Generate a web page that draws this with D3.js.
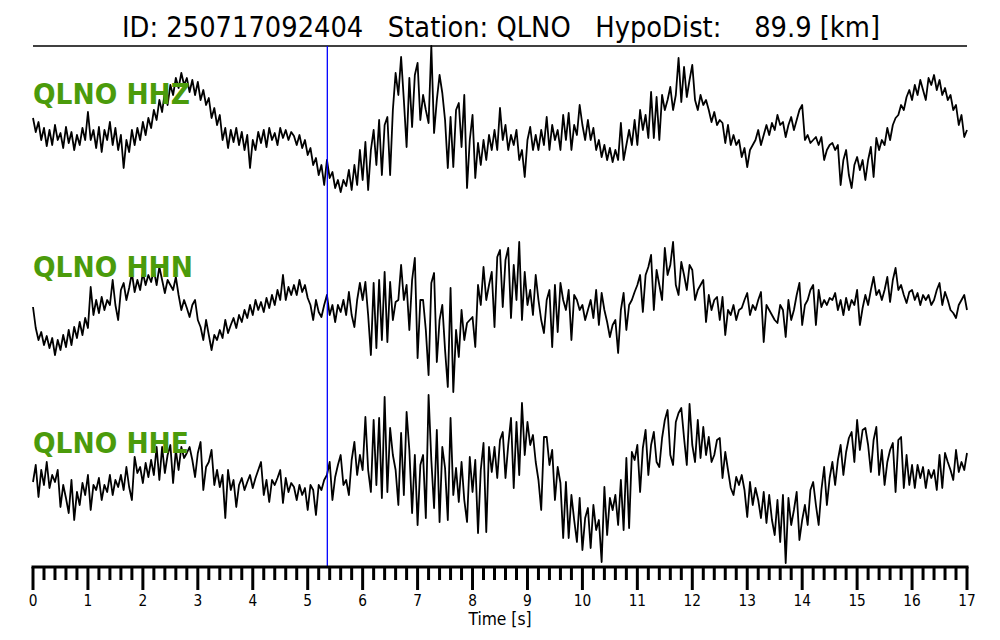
<!DOCTYPE html>
<html><head><meta charset="utf-8">
<script src="https://cdn.jsdelivr.net/npm/d3@7"></script>
<style>body{margin:0;background:#fff}svg{display:block}text{font-family:"DejaVu Sans",sans-serif}</style>
</head><body>
<svg id="c" width="1000" height="640"></svg>
<script>
const title = "ID: 250717092404   Station: QLNO   HypoDist:    89.9 [km]";
const channels = ["QLNO HHZ", "QLNO HHN", "QLNO HHE"];
const dt = 0.05;          // sample interval (s)
const tMax = 17;
const pickTime = 5.357;   // blue marker (s)
const tickLabels = d3.range(0, 18).map(String);
const xLabel = "Time [s]";

const hhz = [2,-12,-2,-20,-8,-26,-10,-25,-5,-20,
-13,-28,-7,-23,-12,-30,-15,-25,-8,-20,
8,-20,-10,-28,-7,-32,-10,-20,-2,-25,
-8,-30,-15,-48,-20,-32,-10,-25,-8,-20,
-2,-15,2,-8,10,0,20,8,28,15,
35,25,42,32,47,35,42,28,40,25,
38,20,30,15,22,2,12,-5,5,-20,
-8,-28,-10,-22,-8,-25,-12,-30,-15,-48,
-20,-30,-12,-23,-10,-27,-8,-20,-13,-25,
-8,-18,-10,-20,-12,-16,-25,-15,-28,-20,
-35,-28,-45,-38,-55,-45,-65,-40,-58,-52,
-68,-60,-72,-60,-66,-50,-70,-45,-65,-30,
-60,-22,-70,-30,-10,-45,0,-55,-5,3,
-55,10,47,25,63,20,-27,42,-7,45,
57,0,25,10,-3,74,-13,20,45,27,
0,-48,3,-47,10,17,-27,25,-68,-20,
5,-58,-23,-45,-20,-40,-15,-30,-10,-30,
12,-20,-5,-30,-15,-25,-10,-40,-30,-57,
-20,-7,-30,-15,-30,-10,-25,3,-30,-5,
-20,-10,-30,5,-20,7,-30,-5,-15,15,
-5,-20,0,-20,-8,-30,-20,-37,-25,-40,
-28,-42,-30,-40,-3,-40,-25,-10,-25,0,
-25,10,-10,5,-18,28,-18,23,-20,25,
10,20,33,10,25,62,18,53,23,40,
55,20,10,25,15,20,10,-2,8,-5,
0,-3,-23,-5,-25,-15,-25,-20,-37,-28,
-47,-30,-25,-20,-10,-25,-15,-5,-15,-3,
-10,5,-5,-2,-17,-5,3,-10,0,10,
15,-20,-15,-23,-20,-17,-25,-17,-40,-30,
-25,-23,-30,-25,-65,-40,-30,-55,-68,-45,
-37,-50,-40,-60,-40,-27,-57,-18,-30,-20,
-25,-8,-20,-5,2,5,15,10,23,30,
20,35,25,40,30,20,42,35,45,30,
40,25,32,20,25,10,15,-5,5,-17,-10];

const hhn = [8,-13,-25,-17,-30,-21,-33,-23,-40,-25,
-35,-20,-32,-15,-30,-12,-23,-7,-20,-3,
-13,28,0,15,2,18,5,15,10,35,
10,-5,25,32,15,27,42,23,35,25,
42,30,40,33,45,30,48,35,22,35,
30,25,38,20,5,15,7,-2,10,15,
-5,-12,-25,-5,-20,-35,-20,-25,-15,-23,
-5,-18,-10,-3,-13,0,-7,5,-3,10,
0,15,5,13,3,17,7,20,10,25,
15,40,15,28,20,30,20,35,23,30,
17,10,-5,15,3,-2,10,20,0,10,
-7,10,3,15,0,23,0,-12,15,32,
15,33,0,-40,32,-33,35,-25,43,-27,
33,-5,13,15,50,15,30,-15,35,57,
-43,15,15,-15,-60,32,42,-47,-5,10,
-35,-72,27,-77,-15,-42,5,-25,-8,-5,
-2,-32,30,10,48,15,30,43,-12,58,
65,8,55,67,-3,50,15,73,-5,43,
10,25,0,40,15,-5,-18,15,25,-32,
30,-17,32,15,5,25,-25,20,15,5,
10,-5,5,15,-3,25,-10,22,5,-7,
-22,-10,-5,-38,5,22,-15,10,15,23,
30,40,3,40,48,60,5,45,30,15,
67,40,50,73,30,20,53,40,25,50,
45,15,25,30,35,-7,20,5,15,18,
-5,18,-20,5,0,10,-5,5,7,15,
22,0,10,5,15,23,-27,10,5,0,
-5,-8,10,5,-22,15,-5,5,20,32,
-10,10,15,25,30,-10,25,8,15,10,
17,15,22,5,15,0,17,5,15,10,
25,-10,7,20,10,25,38,20,25,15,
25,38,13,35,47,25,30,20,12,23,
25,15,22,10,20,15,20,10,15,25,
32,10,23,15,5,2,-3,10,15,20,5];

const hhe = [-2,15,-17,10,-5,18,-8,5,-2,10,
-27,-5,-18,-33,0,-40,-12,-25,-3,-15,
5,-30,-5,-10,2,-20,-5,-12,5,-15,
0,-7,5,-10,13,-7,-20,23,7,13,
-3,17,3,20,5,33,0,33,7,25,
35,-3,30,10,33,22,27,33,20,3,
27,38,-10,13,18,30,-5,10,-7,5,
-38,10,-10,0,-27,-5,2,-10,-2,5,
-8,2,10,18,-15,0,-22,0,-5,2,
10,-23,2,-12,-3,-7,-20,-5,-15,-8,
-30,-5,-10,-35,-5,-10,0,5,18,-20,
3,15,25,-5,0,-15,20,38,5,25,
10,63,10,-12,60,-5,62,-18,83,-12,
52,25,10,-25,47,-15,68,30,-33,25,
-45,15,25,-38,85,20,-28,50,-42,33,
12,-40,62,-15,12,-22,18,-20,-42,23,
-12,20,-53,10,37,-52,33,8,33,2,
40,48,2,35,62,-8,58,5,77,25,
58,35,45,18,0,-30,43,43,15,30,
-20,13,-3,-58,-2,-58,-15,-40,-62,-18,
-70,-38,-28,-68,-25,-50,-40,-82,-7,-55,
-18,-30,-15,-45,0,-50,22,-48,28,20,
35,-12,32,50,5,35,48,18,13,42,
60,70,25,15,58,67,72,42,15,76,
35,18,60,22,53,25,43,18,25,40,
42,2,28,10,-8,-15,3,-5,5,-10,
-37,-2,-25,-8,-20,-38,-12,-43,-15,-40,
-55,-20,-62,-15,-83,-18,-45,-30,-12,-60,
-40,-25,-45,-10,-2,-25,-45,-10,13,-25,
2,18,-5,20,35,5,28,42,48,18,
60,30,50,52,35,8,40,53,5,30,
-5,18,30,37,-12,40,43,-8,25,-5,
15,-8,15,2,13,-8,10,2,10,-10,
25,-8,27,18,10,0,30,8,18,10,27];

const series = [hhz, hhn, hhe];
const centers = [120, 315, 480];   // trace baselines (layout)
const labelY = [104, 277, 453];
const SX = 0.915;                  // horizontal glyph compression seen in reference

const svg = d3.select("#c");
const L = 33, R = 967, axisY = 567, topLine = 46;
const x = d3.scaleLinear().domain([0, tMax]).range([L, R]);

function txt(px, py, size, anchor) {
  return svg.append("text")
    .attr("transform", `translate(${px},${py}) scale(${SX},1)`)
    .attr("font-size", size).attr("text-anchor", anchor || "start").attr("fill", "#000");
}

// title
txt(501, 37, 28.2, "middle").style("white-space", "pre").text(title);
svg.append("line").attr("x1", L).attr("x2", R).attr("y1", topLine).attr("y2", topLine)
  .attr("stroke", "#000").attr("stroke-width", 1.5);

// traces
series.forEach((vals, k) => {
  const y = d3.scaleLinear().domain([-100, 100]).range([centers[k] + 100, centers[k] - 100]);
  const line = d3.line().x((d, i) => x(i * dt)).y(d => y(d));
  svg.append("path").datum(vals).attr("d", line).attr("fill", "none")
    .attr("stroke", "#000").attr("stroke-width", 1.8).attr("stroke-linejoin", "round");
});

// labels
channels.forEach((c, k) => {
  txt(L, labelY[k], 29).attr("font-weight", "bold").attr("fill", "#4b9b0b").text(c);
});

// pick marker
svg.append("line").attr("x1", x(pickTime)).attr("x2", x(pickTime))
  .attr("y1", topLine).attr("y2", axisY).attr("stroke", "#0000ff").attr("stroke-width", 1.3);

// axis
const g = svg.append("g");
g.append("line").attr("x1", L - 1.5).attr("x2", R + 1.5).attr("y1", axisY).attr("y2", axisY)
  .attr("stroke", "#000").attr("stroke-width", 3);
const minor = d3.range(0, tMax * 5 + 1).map(i => i / 5);
g.selectAll("line.t").data(minor).join("line").attr("class", "t")
  .attr("x1", d => x(d)).attr("x2", d => x(d)).attr("y1", axisY)
  .attr("y2", (d, i) => i % 5 === 0 ? axisY + 23 : axisY + 13)
  .attr("stroke", "#000").attr("stroke-width", 3);
tickLabels.forEach(d => { txt(x(+d), 606, 15, "middle").text(d); });
txt(500, 625, 17, "middle").text(xLabel);
</script>
</body></html>
